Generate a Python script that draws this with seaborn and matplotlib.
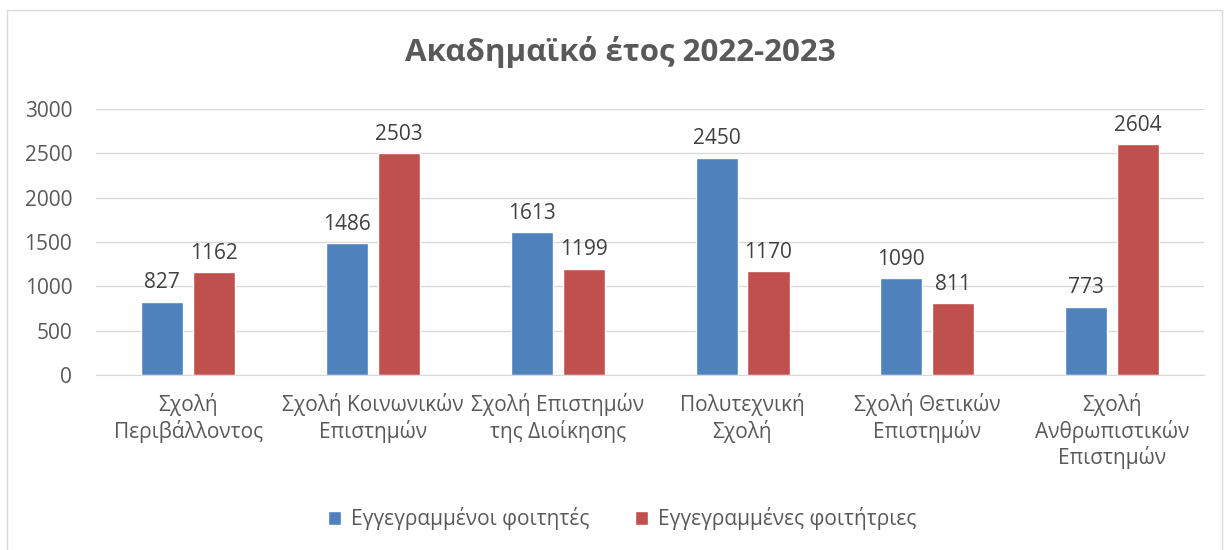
import pandas as pd
import matplotlib.pyplot as plt
import seaborn as sns
from matplotlib.patches import Rectangle

schools = ['Σχολή\nΠεριβάλλοντος', 'Σχολή Κοινωνικών\nΕπιστημών', 'Σχολή Επιστημών\nτης Διοίκησης',
           'Πολυτεχνική\nΣχολή', 'Σχολή Θετικών\nΕπιστημών', 'Σχολή\nΑνθρωπιστικών\nΕπιστημών']
male = [827, 1486, 1613, 2450, 1090, 773]
female = [1162, 2503, 1199, 1170, 811, 2604]
series = ['Εγγεγραμμένοι φοιτητές', 'Εγγεγραμμένες φοιτήτριες']
colors = ['#4F81BD', '#C0504D']

df = pd.DataFrame({'school': schools * 2,
                   'value': male + female,
                   'group': [series[0]] * len(schools) + [series[1]] * len(schools)})

sns.set_style('white')
plt.rcParams['font.family'] = ['Open Sans', 'DejaVu Sans']

fig = plt.figure(figsize=(12.29, 5.5), dpi=100)
ax = fig.add_axes([0.078, 0.318, 0.902, 0.484])
sns.barplot(data=df, x='school', y='value', hue='group', palette=colors,
            width=0.562, gap=0.19, ax=ax, saturation=1)

for cont in ax.containers:
    ax.bar_label(cont, padding=6, fontsize=15, color='#404040')

ax.set_ylim(0, 3000)
ax.set_yticks(range(0, 3001, 500))
ax.yaxis.grid(True, color='#D9D9D9', linewidth=1)
ax.set_axisbelow(True)
for s in ['top', 'right', 'left']:
    ax.spines[s].set_visible(False)
ax.spines['bottom'].set_color('#D9D9D9')
ax.tick_params(axis='both', length=0, labelsize=15, labelcolor='#595959')
ax.tick_params(axis='y', pad=17)
ax.tick_params(axis='x', pad=13)
ax.set_xlabel('')
ax.set_ylabel('')

fig.suptitle('Ακαδημαϊκό έτος 2022-2023', x=0.505, y=0.935, fontsize=22.5,
             fontweight='bold', color='#595959')

ax.legend(loc='center', bbox_to_anchor=(0.475, -0.54), ncol=2, frameon=False,
          fontsize=15, labelcolor='#595959', handlelength=0.6, handleheight=0.6,
          columnspacing=2.2, handletextpad=0.5)

fig.patches.append(Rectangle((7 / 1229, -0.01), 1215 / 1229, 1 - 10 / 550 + 0.01,
                             transform=fig.transFigure, fill=False,
                             edgecolor='#D9D9D9', linewidth=1))

fig.savefig('out.png', dpi=100)
